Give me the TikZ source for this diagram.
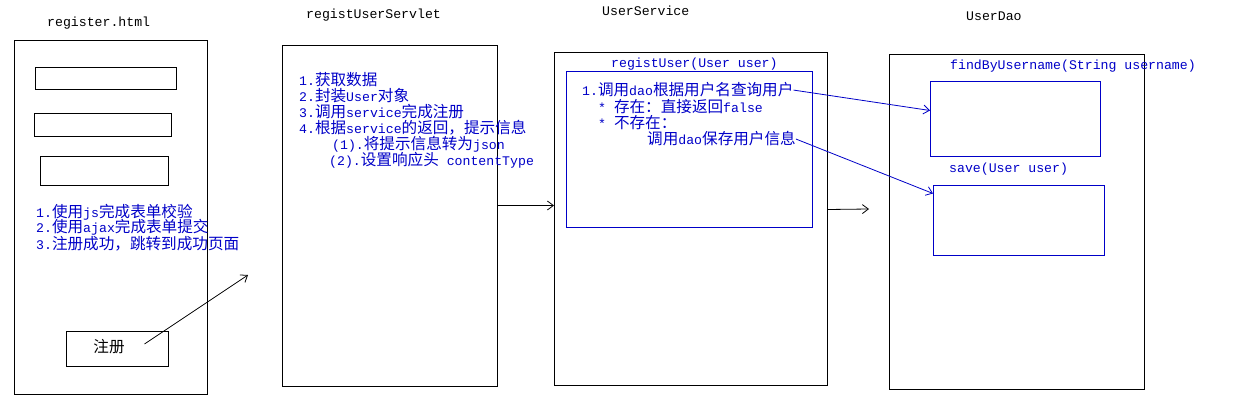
\documentclass[tikz,border=0pt]{standalone}
\usepackage{fontspec}
\setmainfont{Liberation Mono}
\newfontfamily\cjk{Noto Sans CJK SC}
\usetikzlibrary{arrows.meta}
\newcommand\zh[1]{{\cjk\fontsize{15.6}{16}\selectfont #1}}
\definecolor{myblue}{RGB}{0,0,200}
\tikzset{
  box/.style={draw=black, line width=1pt, anchor=north west, inner sep=0pt},
  bbox/.style={draw=myblue, line width=1pt, anchor=north west, inner sep=0pt},
  txt/.style={anchor=base west, inner sep=0pt, font=\fontsize{13.2}{16}\selectfont},
  btxt/.style={txt, text=myblue},
  arr/.style={line width=0.8pt, -{Straight Barb[length=6pt,width=9pt]}},
  barr/.style={arr, draw=myblue},
}
\begin{document}
\begin{tikzpicture}[x=1pt,y=-1pt]
\useasboundingbox[fill=white] (0,0) rectangle (1251,401);
% register.html
\node[txt] (t0) at (47,27) {register.html};
\node[box, minimum width=193pt, minimum height=354pt] (reg) at (14,40) {};
\node[box, minimum width=141pt, minimum height=22pt] (in1) at (35,67) {};
\node[box, minimum width=137pt, minimum height=23pt] (in2) at (34,113) {};
\node[box, minimum width=128pt, minimum height=29pt] (in3) at (40,156) {};
\node[btxt] (r1) at (36,217) {1.\zh{使用}js\zh{完成表单校验}};
\node[btxt] (r2) at (36,233) {2.\zh{使用}ajax\zh{完成表单提交}};
\node[btxt] (r3) at (36,249) {3.\zh{注册成功，跳转到成功页面}};
\node[box, minimum width=102pt, minimum height=35pt] (btn) at (66,331) {};
\node[inner sep=0pt] (btntxt) at (109,347) {\zh{注册}};
\coordinate (a0) at (248,275);
\draw[arr] ([xshift=27pt,yshift=5pt]btn.center) -- (a0);
% servlet
\node[txt] (t1) at (306,19) {registUserServlet};
\node[box, minimum width=215pt, minimum height=341pt] (srv) at (282,45) {};
\node[btxt] (s1) at (299,86) {1.\zh{获取数据}};
\node[btxt] (s2) at (299,102) {2.\zh{封装}User\zh{对象}};
\node[btxt] (s3) at (299,118) {3.\zh{调用}service\zh{完成注册}};
\node[btxt] (s4) at (299,134) {4.\zh{根据}service\zh{的返回，提示信息}};
\node[btxt] (s5) at (332,150) {(1).\zh{将提示信息转为}json};
\node[btxt] (s6) at (329,166) {(2).\zh{设置响应头} contentType};
% service
\node[txt] (t2) at (602,16) {UserService};
\node[box, minimum width=273pt, minimum height=333pt] (svc) at (554,52) {};
\node[btxt] (m0) at (611,68) {registUser(User user)};
\node[bbox, minimum width=246pt, minimum height=156pt] (inner) at (566,71) {};
\node[btxt] (m1) at (582,96) {1.\zh{调用}dao\zh{根据用户名查询用户}};
\node[btxt] (m2) at (598,113) {* \zh{存在：直接返回}false};
\node[btxt] (m3) at (598,129) {* \zh{不存在：}};
\node[btxt] (m4) at (647,145) {\zh{调用}dao\zh{保存用户信息}};
\draw[arr] ([yshift=10.5pt]srv.east) -- ([yshift=13.5pt]svc.west);
% dao
\node[txt] (t3) at (966,21) {UserDao};
\node[box, minimum width=255pt, minimum height=335pt] (dao) at (889,54) {};
\node[btxt] (d0) at (950,70) {findByUsername(String username)};
\node[bbox, minimum width=170pt, minimum height=75pt] (f1) at (930,81) {};
\node[btxt] (d1) at (949,173) {save(User user)};
\node[bbox, minimum width=171pt, minimum height=70pt] (f2) at (933,185) {};
\coordinate (a1) at (869,209);
\draw[arr] ([yshift=9.5pt]svc.east) -- (a1);
\draw[barr] (m1.east) -- ([yshift=8.5pt]f1.west);
\draw[barr] (m4.east) -- ([yshift=27pt]f2.west);
\end{tikzpicture}
\end{document}
